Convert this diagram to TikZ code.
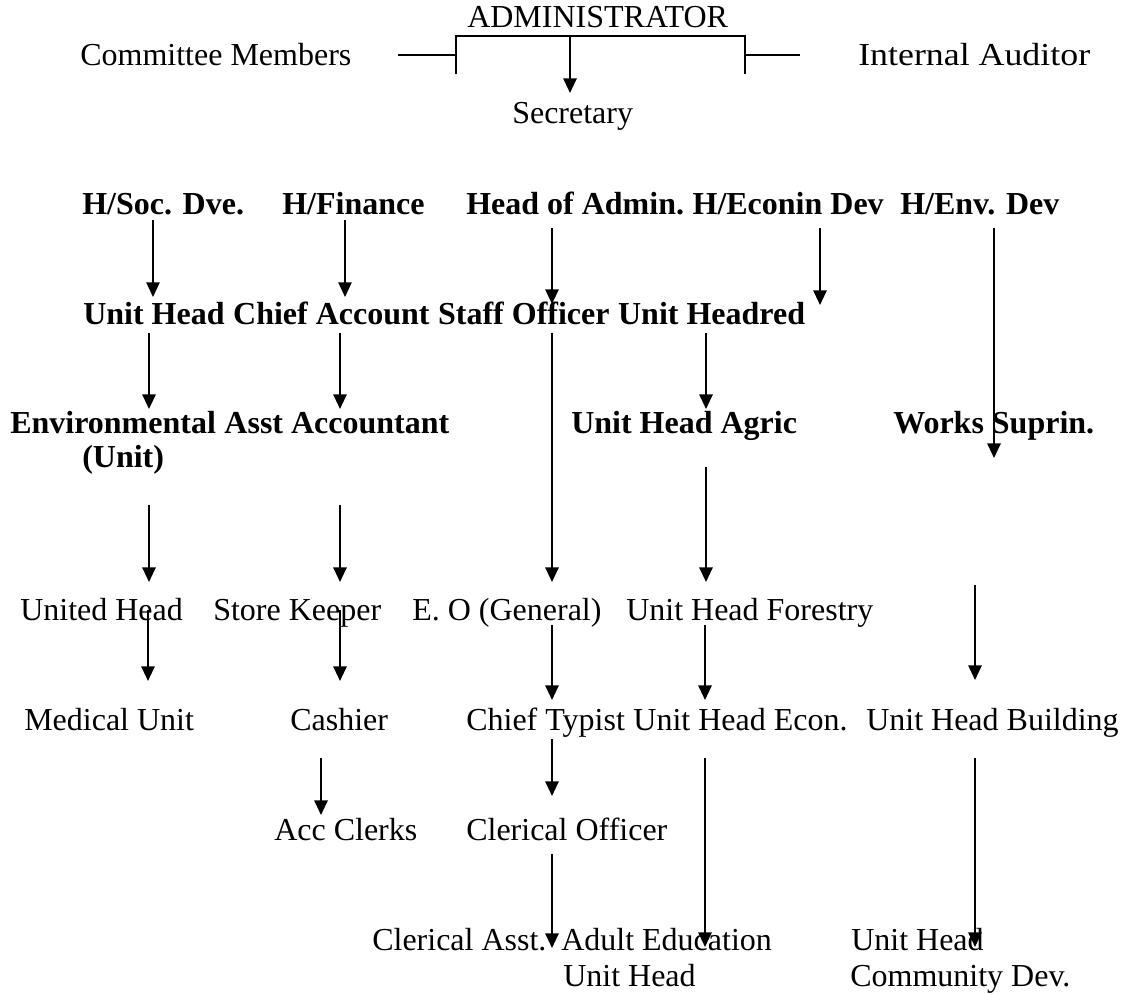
\documentclass[tikz,border=0pt]{standalone}
\usepackage{fontspec}
\setmainfont{Liberation Serif}
\newfontfamily\widefont[FakeStretch=1.12]{Liberation Serif}
\usetikzlibrary{arrows.meta}
\begin{document}
\begin{tikzpicture}[x=0.75pt,y=-0.75pt,
  lbl/.style={anchor=base west,inner sep=0pt,font=\fontsize{24}{28}\selectfont},
  lblb/.style={anchor=base west,inner sep=0pt,font=\fontsize{24}{28}\selectfont\bfseries},
  lblw/.style={anchor=base west,inner sep=0pt,font=\widefont\fontsize{24}{28}\selectfont},
  arr/.style={-{Triangle[length=11pt,width=10pt]},line width=1.5pt},
  thinarr/.style={arr,line width=1.1pt},
  ln/.style={line width=1.5pt}]
\useasboundingbox (0,0) rectangle (1121,994);

% ---- top ----
\node[lbl] (admin) at (467,28) {ADMINISTRATOR};
\node[lbl] (committee) at (80,66) {Committee Members};
\node[lblw] (auditor) at (858,66) {Internal Auditor};
\node[lbl] (secretary) at (512,124) {Secretary};

\coordinate (bl) at (456,74);
\coordinate (tl) at (456,36);
\coordinate (tr) at (745,36);
\coordinate (br) at (745,74);
\draw[ln] (bl) -- (tl) -- (tr) -- (br);
\coordinate (cmS) at (398,55);
\coordinate (cmE) at (456,55);
\coordinate (auS) at (745,55);
\coordinate (auE) at (800,55);
\draw[ln] (cmS) -- (cmE);
\draw[ln] (auS) -- (auE);
\coordinate (adS) at (570,36);
\coordinate (adE) at (570,93);
\draw[arr] (adS) -- (adE);

% ---- heads (bold) ----
\node[lblb] (hsoc) at (82,215) {H/Soc. Dve.};
\node[lblb] (hfin) at (282,215) {H/Finance};
\node[lblb] (hadm) at (466,215) {Head of Admin.};
\node[lblb] (hecon) at ([xshift=6pt]hadm.base east) {H/Econin Dev};
\node[lblb] (henv) at (900,215) {H/Env. Dev};

\node[lblb] (uhead) at (83,325) {Unit Head};
\node[lblb] (chacc) at ([xshift=6pt]uhead.base east) {Chief Account};
\node[lblb] (staff) at ([xshift=6pt]chacc.base east) {Staff Officer};
\node[lblb] (uheadred) at ([xshift=6pt]staff.base east) {Unit Headred};

\node[lblb] (envir) at (10,434) {Environmental};
\node[lblb] (envunit) at (82,468) {(Unit)};
\node[lblb] (asstacc) at ([xshift=6pt]envir.base east) {Asst Accountant};
\node[lblb] (agric) at (571,434) {Unit Head Agric};
\node[lblb] (works) at (893,434) {Works Suprin.};

% ---- lower rows (regular) ----
\node[lbl] (united) at (20,620) {United Head};
\node[lbl] (store) at (213,620) {Store Keeper};
\node[lbl] (eo) at (412,620) {E. O (General)};
\node[lbl] (forestry) at (626,620) {Unit Head Forestry};

\node[lbl] (medical) at (24,730) {Medical Unit};
\node[lbl] (cashier) at (290,730) {Cashier};
\node[lbl] (typist) at (466,730) {Chief Typist};
\node[lbl] (uhecon) at ([xshift=6pt]typist.base east) {Unit Head Econ.};
\node[lbl] (building) at (866,730) {Unit Head Building};

\node[lbl] (clerks) at (274,840) {Acc Clerks};
\node[lbl] (clofficer) at (466,840) {Clerical Officer};

\node[lbl] (classt) at (372,950) {Clerical Asst.};
\node[lbl] (adult) at (561,950) {Adult Education};
\node[lbl] (adult2) at (563,986) {Unit Head};
\node[lbl] (comm) at (851,950) {Unit Head};
\node[lbl] (comm2) at (850,986) {Community Dev.};

% ---- connectors ----
\coordinate (a1s) at (153,220); \coordinate (a1e) at (153,297);
\coordinate (a2s) at (345,220); \coordinate (a2e) at (345,297);
\coordinate (a3s) at (552,228); \coordinate (a3e) at (552,304);
\coordinate (a4s) at (820,228); \coordinate (a4e) at (820,305);
\coordinate (a5s) at (994,228); \coordinate (a5e) at (994,458);
\draw[thinarr] (a1s) -- (a1e);
\draw[thinarr] (a2s) -- (a2e);
\draw[arr] (a3s) -- (a3e);
\draw[arr] (a4s) -- (a4e);
\draw[arr] (a5s) -- (a5e);

\coordinate (b1s) at (149,333); \coordinate (b1e) at (149,409);
\coordinate (b2s) at (340,333); \coordinate (b2e) at (340,409);
\coordinate (b3s) at (552,333); \coordinate (b3e) at (552,582);
\coordinate (b4s) at (706,333); \coordinate (b4e) at (706,409);
\draw[arr] (b1s) -- (b1e);
\draw[arr] (b2s) -- (b2e);
\draw[arr] (b3s) -- (b3e);
\draw[arr] (b4s) -- (b4e);

\coordinate (c1s) at (149,505); \coordinate (c1e) at (149,582);
\coordinate (c2s) at (340,505); \coordinate (c2e) at (340,582);
\coordinate (c3s) at (706,467); \coordinate (c3e) at (706,582);
\coordinate (c4s) at (975,585); \coordinate (c4e) at (975,680);
\draw[arr] (c1s) -- (c1e);
\draw[arr] (c2s) -- (c2e);
\draw[arr] (c3s) -- (c3e);
\draw[arr] (c4s) -- (c4e);

\coordinate (d1s) at (148,610); \coordinate (d1e) at (148,681);
\coordinate (d2s) at (340,610); \coordinate (d2e) at (340,681);
\coordinate (d3s) at (552,625); \coordinate (d3e) at (552,700);
\coordinate (d4s) at (705,625); \coordinate (d4e) at (705,700);
\draw[arr] (d1s) -- (d1e);
\draw[arr] (d2s) -- (d2e);
\draw[arr] (d3s) -- (d3e);
\draw[arr] (d4s) -- (d4e);

\coordinate (e1s) at (321,758); \coordinate (e1e) at (321,815);
\coordinate (e2s) at (552,739); \coordinate (e2e) at (552,796);
\coordinate (e3s) at (705,758); \coordinate (e3e) at (705,947);
\coordinate (e4s) at (975,758); \coordinate (e4e) at (975,947);
\draw[arr] (e1s) -- (e1e);
\draw[arr] (e2s) -- (e2e);
\draw[arr] (e3s) -- (e3e);
\draw[arr] (e4s) -- (e4e);

\coordinate (f1s) at (552,854); \coordinate (f1e) at (552,948);
\draw[arr] (f1s) -- (f1e);
\end{tikzpicture}
\end{document}
